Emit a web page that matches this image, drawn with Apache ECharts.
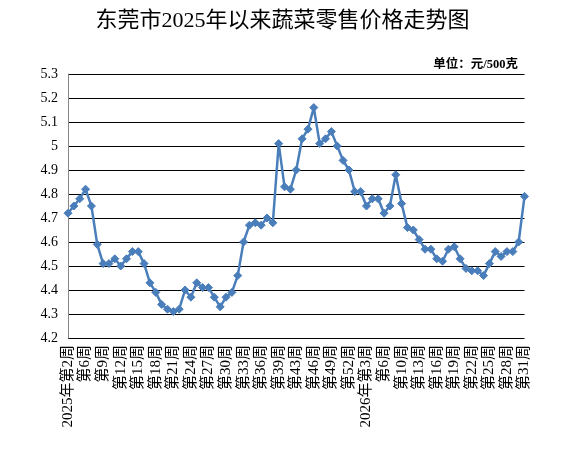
<!DOCTYPE html>
<html>
<head>
<meta charset="utf-8">
<script src="https://cdn.jsdelivr.net/npm/echarts@6/dist/echarts.min.js"></script>
<style>
html,body{margin:0;padding:0;background:#fff;}
#chart{width:565px;height:458px;}
</style>
</head>
<body>
<div id="chart"></div>
<script>
const titleText = '东莞市2025年以来蔬菜零售价格走势图';
const unitText = '单位：元/500克';

const categories = [
  '2025年第2周','第3周','第4周','第6周','第7周','第8周','第9周','第10周','第11周','第12周',
  '第13周','第14周','第15周','第16周','第17周','第18周','第19周','第20周','第21周','第22周',
  '第23周','第24周','第25周','第26周','第27周','第28周','第29周','第30周','第31周','第32周',
  '第33周','第34周','第35周','第36周','第37周','第38周','第39周','第41周','第42周','第43周',
  '第44周','第45周','第46周','第47周','第48周','第49周','第50周','第51周','第52周','第1周',
  '第2周','2026年第3周','第4周','第5周','第6周','第7周','第9周','第10周','第11周','第12周',
  '第13周','第14周','第15周','第16周','第17周','第18周','第19周','第20周','第21周','第22周',
  '第23周','第24周','第25周','第26周','第27周','第28周','第29周','第30周','第31周'
];

const prices = [
  4.72, 4.75, 4.78, 4.82, 4.75, 4.59, 4.51, 4.51, 4.53, 4.50,
  4.53, 4.56, 4.56, 4.51, 4.43, 4.39, 4.34, 4.32, 4.31, 4.32,
  4.40, 4.37, 4.43, 4.41, 4.41, 4.37, 4.33, 4.37, 4.39, 4.46,
  4.60, 4.67, 4.68, 4.67, 4.70, 4.68, 5.01, 4.83, 4.82, 4.90,
  5.03, 5.07, 5.16, 5.01, 5.03, 5.06, 5.00, 4.94, 4.90, 4.81,
  4.81, 4.75, 4.78, 4.78, 4.72, 4.75, 4.88, 4.76, 4.66, 4.65,
  4.61, 4.57, 4.57, 4.53, 4.52, 4.57, 4.58, 4.53, 4.49, 4.48,
  4.48, 4.46, 4.51, 4.56, 4.54, 4.56, 4.56, 4.60, 4.79
];

const yMin = 4.2, yMax = 5.3, yStep = 0.1;

const FONT = "'Liberation Serif', 'Noto Sans CJK SC', serif";

const chart = echarts.init(document.getElementById('chart'), null, {renderer: 'canvas'});
chart.setOption({
  animation: false,
  backgroundColor: '#ffffff',
  title: [{
    text: titleText,
    left: 'center',
    top: 5,
    textStyle: {fontFamily: FONT, fontSize: 22, fontWeight: 'normal', color: '#000'}
  }, {
    text: unitText,
    right: 42,
    top: 54,
    textStyle: {fontFamily: FONT, fontSize: 12.5, fontWeight: 'bold', color: '#000'}
  }],
  grid: {left: 68, right: 40.5, top: 74, bottom: 120, containLabel: false},
  xAxis: {
    type: 'category',
    data: categories,
    boundaryGap: false,
    axisLine: {show: false},
    axisTick: {show: false},
    axisLabel: {
      interval: 2,
      rotate: 90,
      margin: 7,
      fontFamily: FONT,
      fontSize: 15,
      color: '#000'
    },
    splitLine: {show: false}
  },
  yAxis: {
    type: 'value',
    min: yMin,
    max: yMax,
    interval: yStep,
    axisLine: {show: true, lineStyle: {color: '#868686', width: 1}},
    axisTick: {show: false},
    axisLabel: {
      margin: 10,
      fontFamily: FONT,
      fontSize: 14,
      color: '#000',
      formatter: v => String(Math.round(v * 10) / 10)
    },
    splitLine: {show: true, lineStyle: {color: '#000', width: 1}}
  },
  series: [{
    type: 'line',
    data: prices,
    symbol: 'diamond',
    symbolSize: 8,
    showAllSymbol: true,
    lineStyle: {color: '#4A7EBB', width: 2.5},
    itemStyle: {color: '#4A7EBB', borderColor: '#4A7EBB'}
  }]
});
</script>
</body>
</html>
